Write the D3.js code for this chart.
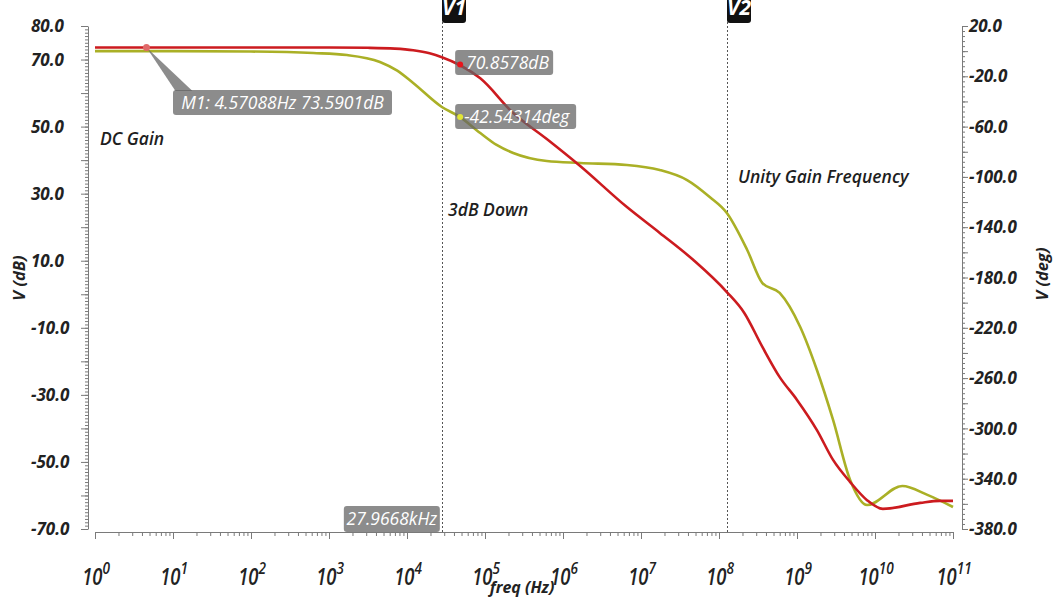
<!DOCTYPE html>
<html>
<head>
<meta charset="utf-8">
<script src="https://cdn.jsdelivr.net/npm/d3@7"></script>
<style>
body { margin: 0; background: #fff; }
svg { display: block; font-family: "Open Sans", "Noto Sans", sans-serif; }
</style>
</head>
<body>
<div id="chart"></div>
<script>
// Gain trace (red, left axis)
const gainFreq = [1, 10, 100, 1e3, 3.16e3, 7e3, 1.2e4, 1.95e4, 2.8e4, 4.8e4, 8.7e4, 2.3e5, 6.2e5, 1.66e6, 6.6e6, 1.74e7, 4.7e7, 1.26e8, 2.1e8, 3.6e8, 6.0e8, 1e9, 1.8e9, 2.9e9, 4.8e9, 7.9e9, 1.26e10, 3.8e10, 6.8e10, 1e11];
const gainDb = [73.6, 73.6, 73.6, 73.6, 73.5, 73.25, 72.75, 71.85, 70.7, 68.3, 64.4, 54.05, 46.3, 38.25, 26.0, 18.3, 10.2, 0.67, -5.5, -15.7, -24.7, -31.5, -40.5, -49.4, -56.0, -61.4, -64.0, -62.2, -61.6, -61.6];

// Phase trace (olive, right axis)
const phaseFreq = [1, 10, 100, 6.3e2, 1.7e3, 4.5e3, 7.5e3, 1.2e4, 2.8e4, 4.8e4, 8.7e4, 1.41e5, 2.3e5, 6.2e5, 1.66e6, 6.6e6, 1.74e7, 3.9e7, 7.6e7, 1.26e8, 2.3e8, 3.6e8, 6.0e8, 1.1e9, 1.8e9, 2.9e9, 4.8e9, 7.9e9, 2.24e10, 4.7e10, 1e11];
const phaseDeg = [0, 0, -0.3, -1.5, -3.1, -8.6, -15.5, -25.3, -44.4, -52.4, -65.1, -74.6, -81.0, -87.4, -88.9, -90.5, -94.5, -102.5, -116.0, -128.7, -158.1, -184.4, -192.3, -219.4, -253.6, -293.3, -341.0, -360.9, -345.8, -352.9, -362.5];

// tick labels
const decades = [0, 1, 2, 3, 4, 5, 6, 7, 8, 9, 10, 11];
const leftLabels = [80, 70, 50, 30, 10, -10, -30, -50, -70];
const rightLabels = [20, -20, -60, -100, -140, -180, -220, -260, -300, -340, -380];

// markers and cursors
const m1 = { f: 4.57088, v: 73.59, text: "M1: 4.57088Hz 73.5901dB" };
const cursorFreq = 4.8e4;
const cursorGain = { v: 68.5, text: "70.8578dB" };
const cursorPhase = { v: -52.4, text: "-42.54314deg" };
const vCursors = [{ name: "V1", f: 27966.8 }, { name: "V2", f: 1.26e8 }];
const v1Label = "27.9668kHz";

const width = 1055, height = 598;
const axisColor = "#7a7a7a";
const red = "#cc1b1f";
const olive = "#aab026";

const svg = d3.select("#chart").append("svg")
    .attr("width", width)
    .attr("height", height);

// Scales
const x = d3.scaleLog().domain([1, 1e11]).range([95, 953]);
const yL = d3.scaleLinear().domain([-70, 80]).range([529, 26]);
const yR = d3.scaleLinear().domain([-380, 20]).range([529, 26]);

// Left axis
const gL = svg.append("g").attr("transform", "translate(88,0)");
gL.call(d3.axisLeft(yL).tickValues(d3.range(-70, 81, 1)).tickSize(3).tickSizeOuter(0).tickFormat(""));
gL.append("g").call(d3.axisLeft(yL).tickValues(d3.range(-70, 81, 10)).tickSize(7).tickSizeOuter(0).tickFormat(""));

// Right axis
const gR = svg.append("g").attr("transform", "translate(962,0)");
gR.call(d3.axisRight(yR).tickValues(d3.range(-380, 21, 4)).tickSize(3).tickSizeOuter(0).tickFormat(""));
gR.append("g").call(d3.axisRight(yR).tickValues(d3.range(-380, 21, 20)).tickSize(6).tickSizeOuter(0).tickFormat(""));

// Bottom axis
const minorFreqs = [];
decades.slice(0, -1).forEach(e => {
    for (let k = 2; k < 10; k++) minorFreqs.push(k * Math.pow(10, e));
});
const gX = svg.append("g").attr("transform", "translate(0,532)");
gX.call(d3.axisBottom(x).tickValues(minorFreqs).tickSize(4).tickSizeOuter(0).tickFormat(""));
gX.append("g").call(d3.axisBottom(x).tickValues(decades.map(e => Math.pow(10, e))).tickSize(7).tickSizeOuter(0).tickFormat(""));

svg.selectAll(".domain, .tick line").attr("stroke", axisColor).attr("stroke-width", 1);
svg.selectAll("g g .domain").remove();

// Tick labels
const tickFont = g => g.style("font-style", "italic").style("font-weight", 700).style("font-size", "17px").attr("fill", "#222");

svg.selectAll(".ltick")
    .data(leftLabels)
    .join("text")
    .attr("class", "ltick")
    .attr("x", 31)
    .attr("y", d => yL(d))
    .attr("dy", "0.36em")
    .call(tickFont)
    .text(d => d.toFixed(1));

svg.selectAll(".rtick")
    .data(rightLabels)
    .join("text")
    .attr("class", "rtick")
    .attr("x", 969)
    .attr("y", d => yR(d))
    .attr("dy", "0.36em")
    .call(tickFont)
    .text(d => d.toFixed(1));

const xl = svg.selectAll(".xtick")
    .data(decades)
    .join("g")
    .attr("class", "xtick")
    .attr("transform", d => `translate(${x(Math.pow(10, d)) + 1},585) scale(0.8,1)`)
    .append("text")
    .attr("text-anchor", "middle")
    .style("font-style", "italic")
    .style("font-weight", 600)
    .style("font-size", "23px")
    .attr("fill", "#222");
xl.append("tspan").text("10");
xl.append("tspan").attr("dy", -11).style("font-size", "17px").text(d => d);

// Axis titles
const titleFont = g => g.style("font-style", "italic").style("font-weight", 700).style("font-size", "16.5px").attr("fill", "#222");
svg.append("text")
    .attr("transform", "translate(25,278) rotate(-90)")
    .attr("text-anchor", "middle")
    .call(titleFont)
    .text("V (dB)");
svg.append("text")
    .attr("transform", "translate(1048,274) rotate(-90)")
    .attr("text-anchor", "middle")
    .call(titleFont)
    .text("V (deg)");
svg.append("text")
    .attr("x", 522)
    .attr("y", 593)
    .attr("text-anchor", "middle")
    .call(titleFont)
    .style("font-size", "16px")
    .text("freq (Hz)");

// Vertical cursors
vCursors.forEach(c => {
    const cx = Math.round(x(c.f)) + 0.5;
    svg.append("line")
        .attr("x1", cx).attr("x2", cx)
        .attr("y1", 22).attr("y2", 532)
        .attr("stroke", "#555")
        .attr("stroke-width", 1)
        .attr("stroke-dasharray", "2,2");
    svg.append("rect")
        .attr("x", cx - 0.5).attr("y", -6)
        .attr("width", 24).attr("height", 29)
        .attr("rx", 3)
        .attr("fill", "#111");
    svg.append("text")
        .attr("x", cx + 11.5).attr("y", 15)
        .attr("text-anchor", "middle")
        .style("font-style", "italic")
        .style("font-weight", 700)
        .style("font-size", "21px")
        .attr("fill", "#fff")
        .text(c.name);
});

// Traces
const line = d3.line()
    .x(d => x(d[0]))
    .curve(d3.curveMonotoneX);

svg.append("path")
    .datum(phaseFreq.map((f, i) => [f, phaseDeg[i]]))
    .attr("d", line.y(d => yR(d[1])))
    .attr("fill", "none")
    .attr("stroke", olive)
    .attr("stroke-width", 2.6);

svg.append("path")
    .datum(gainFreq.map((f, i) => [f, gainDb[i]]))
    .attr("d", line.y(d => yL(d[1])))
    .attr("fill", "none")
    .attr("stroke", red)
    .attr("stroke-width", 2.6);

// Annotations
const noteFont = g => g.style("font-style", "italic").style("font-weight", 600).style("font-size", "17.5px").attr("fill", "#1e1e1e");
svg.append("text").attr("x", 100).attr("y", 145).call(noteFont).text("DC Gain");
svg.append("text").attr("x", 448).attr("y", 216).call(noteFont).text("3dB Down");
svg.append("text").attr("x", 738).attr("y", 183).call(noteFont).text("Unity Gain Frequency");

// Gray marker labels
const boxFill = "#666";
const boxOpacity = 0.75;
const labelFont = g => g.style("font-style", "italic").style("font-weight", 500).style("font-size", "17.5px").attr("fill", "#fff");

function labelBox(x0, y0, w, h, txt, tx, anchor) {
    svg.append("rect")
        .attr("x", x0).attr("y", y0)
        .attr("width", w).attr("height", h)
        .attr("rx", 3)
        .attr("fill", boxFill)
        .attr("fill-opacity", boxOpacity);
    svg.append("text")
        .attr("x", tx).attr("y", y0 + h / 2)
        .attr("dy", "0.36em")
        .attr("text-anchor", anchor)
        .call(labelFont)
        .text(txt);
}

// M1 connector
const m1x = x(m1.f), m1y = yL(m1.v);
svg.append("path")
    .attr("d", `M${m1x},${m1y}L${m1x + 29},91L${m1x + 46},91Z`)
    .attr("fill", boxFill)
    .attr("fill-opacity", boxOpacity);
labelBox(173, 90, 219, 25, m1.text, 282.5, "middle");

const cx0 = x(cursorFreq);
labelBox(cx0 - 5, 50, 98, 25, cursorGain.text, cx0 + 6, "start");
labelBox(cx0 - 5, 104, 121, 25, cursorPhase.text, cx0 + 4, "start");

const v1x = x(vCursors[0].f);
labelBox(v1x - 98, 506, 96, 26, v1Label, v1x - 50, "middle");

// Marker dots
svg.append("circle").attr("cx", m1x).attr("cy", m1y).attr("r", 3.5).attr("fill", "#e06a6a");
svg.append("circle").attr("cx", cx0).attr("cy", yL(cursorGain.v)).attr("r", 3).attr("fill", "#e8141c");
svg.append("circle").attr("cx", cx0).attr("cy", yR(cursorPhase.v)).attr("r", 3).attr("fill", "#e2e636");
</script>
</body>
</html>
